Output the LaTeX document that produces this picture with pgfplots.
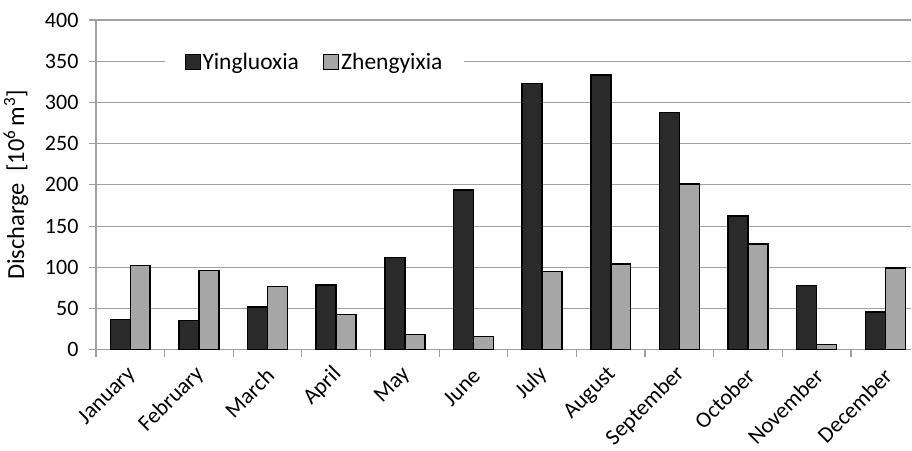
\documentclass[border=0pt]{standalone}
\usepackage{pgfplots}
\pgfplotsset{compat=1.18}
\usepackage{fontspec}
\setmainfont{Carlito}
\definecolor{darkbar}{HTML}{2A2A2A}
\definecolor{lightbar}{HTML}{A6A6A6}
\definecolor{gridgray}{HTML}{A0A0A0}

\begin{document}
\begin{tikzpicture}
\begin{axis}[
  scale only axis,
  width=816pt, height=330pt,
  ybar=0pt, bar width=20pt,
  xmin=-0.5, xmax=11.38,
  ymin=0, ymax=400,
  ytick={0,50,...,400},
  xtick=data,
  xticklabels={January,February,March,April,May,June,July,August,September,October,November,December},
  minor xtick={-0.5,0.5,...,11.5},
  major x tick style={draw=none},
  minor tick length=7pt,
  every tick/.style={gridgray, line width=1.2pt},
  ytick style={gridgray, line width=1.2pt},
  tick align=outside,
  major tick length=7pt,
  axis x line*=bottom, axis y line*=left,
  axis line style={gridgray, line width=1.2pt, -},
  ymajorgrids,
  grid style={gridgray, line width=1.2pt},
  font=\fontsize{22}{24}\selectfont,
  /pgf/number format/assume math mode=true,
  yticklabel style={xshift=-7pt},
  xticklabel style={xshift=10pt, yshift=-21pt, rotate=45, anchor=south east, inner sep=1pt,
    font=\fontsize{22.5}{24}\selectfont},
  ylabel={Discharge\ \ [10\textsuperscript{6}\,m\textsuperscript{3}]},
  ylabel style={at={(axis description cs:-0.098,0.5)}, anchor=center, font=\fontsize{24.5}{26}\selectfont},
  legend columns=2,
  legend style={at={(axis description cs:0.268,0.873)}, anchor=center,
    draw=none, fill=white, inner xsep=20pt, inner ysep=4pt,
    font=\fontsize{23.5}{26}\selectfont,
    /tikz/every even column/.append style={column sep=22pt}},
  legend image code/.code={\draw[#1, line width=1.2pt] (2pt,-7.5pt) rectangle (17pt,7.5pt);},
]
\addplot[fill=darkbar, draw=black, line width=1.5pt] coordinates {
  (0,37) (1,35.5) (2,52) (3,78.5) (4,112) (5,194)
  (6,323) (7,333) (8,288) (9,162) (10,78) (11,46)
};
\addplot[fill=lightbar, draw=black, line width=1.5pt] coordinates {
  (0,102) (1,96) (2,77) (3,42.5) (4,18.5) (5,16)
  (6,95) (7,104) (8,201) (9,128.5) (10,6.5) (11,99)
};
\legend{Yingluoxia, Zhengyixia}
\end{axis}
\useasboundingbox (-96pt,-92pt) rectangle (816pt,350pt);
\end{tikzpicture}
\end{document}
